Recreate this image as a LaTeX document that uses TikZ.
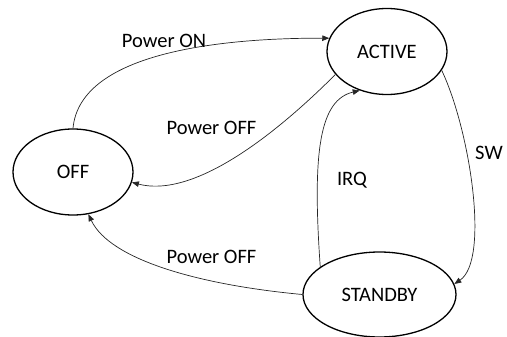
\documentclass[tikz,border=0pt]{standalone}
\usepackage{fontspec}
\setmainfont{Carlito}
\usetikzlibrary{shapes.geometric,arrows.meta}
\tikzset{
  state/.style={ellipse, draw, line width=1.3pt, inner sep=0pt, font=\fontsize{20.5}{24}\selectfont},
  lbl/.style={font=\fontsize{20.5}{24}\selectfont, inner sep=0pt},
  conn/.style={draw=black!85, line width=0.7pt, -{Triangle[length=7pt,width=5.5pt]}}
}
\begin{document}
\begin{tikzpicture}[x=1pt,y=-1pt]
\useasboundingbox (0,0) rectangle (507,337);
\node[state, minimum width=120pt, minimum height=86pt] (off) at (73,172) {OFF};
\node[state, minimum width=120pt, minimum height=86pt] (active) at (387,51.5) {ACTIVE};
\node[state, minimum width=153pt, minimum height=85pt] (standby) at (379.5,294.5) {STANDBY};

\draw[conn] (off.90) .. controls (80,50) and (230,38) .. (active.167);
\draw[conn] (active.204) .. controls (290,120) and (200,200) .. (off.-10);
\draw[conn] (standby.155) .. controls (312,150) and (320,100) .. (active.235);
\draw[conn] (active.-19) .. controls (470,130) and (490,260) .. (standby.8);
\draw[conn] (standby.180) .. controls (200,285) and (110,260) .. (off.-70);

\node[lbl] (lon) at (164,41) {Power ON};
\node[lbl] (loff1) at (211.5,128) {Power OFF};
\node[lbl] (loff2) at (211.5,257) {Power OFF};
\node[lbl] (lirq) at (352,180) {IRQ};
\node[lbl] (lsw) at (489,153) {SW};
\end{tikzpicture}
\end{document}
